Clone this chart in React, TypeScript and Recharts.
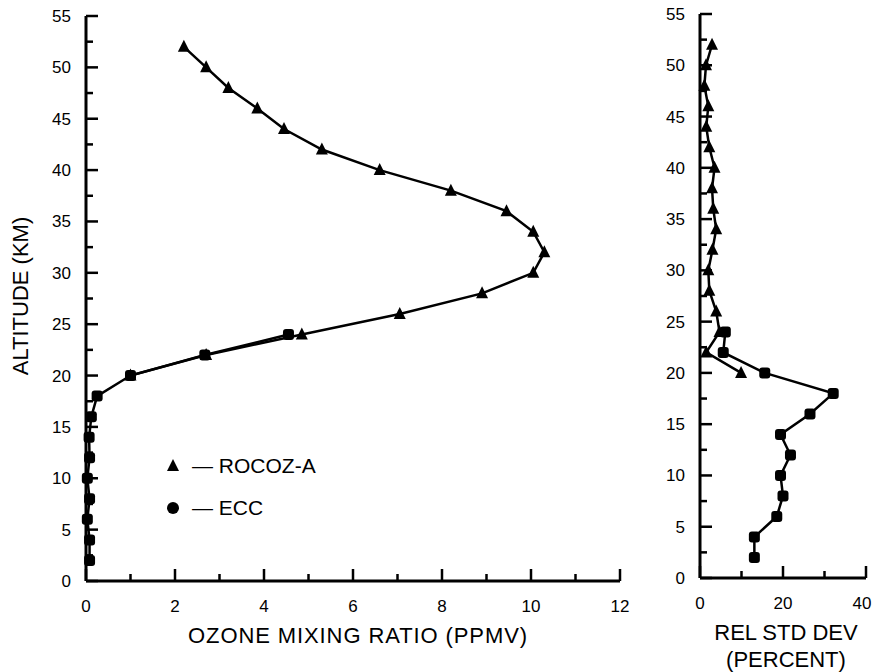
import React from 'react'
import { ScatterChart, Scatter, XAxis, YAxis, Legend } from 'recharts'

// altitudes (km) and values
const ROCOZ_ALT = [52, 50, 48, 46, 44, 42, 40, 38, 36, 34, 32, 30, 28, 26, 24, 22, 20]
const ROCOZ_MIX = [2.2, 2.7, 3.2, 3.85, 4.45, 5.3, 6.6, 8.2, 9.45, 10.05, 10.3, 10.05, 8.9, 7.05, 4.85, 2.7, 1.0]
const ROCOZ_SD = [2.9, 1.45, 1.05, 2.0, 1.5, 2.25, 3.5, 2.9, 3.2, 3.9, 3.0, 2.0, 2.25, 3.9, 4.7, 1.5, 9.9]

const ECC_ALT = [2, 4, 6, 8, 10, 12, 14, 16, 18, 20, 22, 24]
const ECC_MIX = [0.08, 0.08, 0.03, 0.08, 0.03, 0.08, 0.07, 0.12, 0.25, 1.0, 2.67, 4.55]
const ECC_SD = [13.1, 13.1, 18.5, 20.0, 19.4, 21.8, 19.4, 26.5, 32.1, 15.6, 5.6, 6.1]

const SERIES_NAMES = ['ROCOZ-A', 'ECC']

const ALT_TICKS = [0, 2.5, 5, 7.5, 10, 12.5, 15, 17.5, 20, 22.5, 25, 27.5, 30, 32.5, 35, 37.5, 40, 42.5, 45, 47.5, 50, 52.5, 55]
const MIX_TICKS = [0, 1, 2, 3, 4, 5, 6, 7, 8, 9, 10, 11, 12]
const SD_TICKS = [0, 10, 20, 30, 40]

const FONT = '"Liberation Sans", Arial, Helvetica, sans-serif'

const toPts = (alt: number[], vals: number[]) => alt.map((a, i) => ({ x: vals[i], y: a }))

const rocozMix = toPts(ROCOZ_ALT, ROCOZ_MIX)
const eccMix = toPts(ECC_ALT, ECC_MIX)
const rocozSd = toPts(ROCOZ_ALT, ROCOZ_SD)
const eccSd = toPts(ECC_ALT, ECC_SD)

const Tri = (p: any) => {
  const { cx, cy } = p
  const s = 6
  return <path d={`M${cx},${cy - s - 1}L${cx + s},${cy + s - 1}L${cx - s},${cy + s - 1}Z`} fill="#000" />
}

const Sq = (p: any) => <rect x={p.cx - 5.5} y={p.cy - 5.5} width={11} height={11} rx={3} fill="#000" />

const YTick = (p: any) => {
  const { x, y, payload } = p
  const v = payload.value
  const major = v % 5 === 0
  return (
    <g>
      <path d={`M${x},${y}H${x + (major ? 12 : 7)}`} stroke="#000" strokeWidth={2.5} fill="none" />
      {major && (
        <text x={x - 15} y={y} dy={6} textAnchor="end" fontSize={17} fontFamily={FONT} fill="#000">
          {v}
        </text>
      )}
    </g>
  )
}

const makeXTick = (every: number, last: number) => (p: any) => {
  const { x, y, payload } = p
  const v = payload.value
  const major = v % every === 0
  // the last label sits right at the page edge in the original, pulled in a little
  const tx = v === last ? x - 4 : x
  return (
    <g>
      <path d={`M${x},${y}V${y - (major ? 12 : 7)}`} stroke="#000" strokeWidth={2.5} fill="none" />
      {major && (
        <text x={tx} y={y} dy={31} textAnchor="middle" fontSize={17} fontFamily={FONT} fill="#000">
          {v}
        </text>
      )}
    </g>
  )
}

const LegendBox = ({ payload }: any) => {
  const items = [...(payload || [])].sort((a: any, b: any) => SERIES_NAMES.indexOf(a.value) - SERIES_NAMES.indexOf(b.value))
  return (
    <div style={{ fontFamily: FONT, fontSize: 21, color: '#000', position: 'relative', width: 200, height: 80 }}>
      {items.map((e: any, i: number) => (
        <div key={e.value} style={{ position: 'absolute', left: 0, top: i * 42, height: 30, display: 'flex', alignItems: 'center' }}>
          <svg width={26} height={26} style={{ marginRight: 6 }}>
            {e.value === 'ECC' ? <circle cx={13} cy={13} r={6} fill="#000" /> : <path d="M13,6L19,18L7,18Z" fill="#000" />}
          </svg>
          <span>— {e.value}</span>
        </div>
      ))}
    </div>
  )
}

const axisLine = { stroke: '#000', strokeWidth: 3 }
const lineStyle = { stroke: '#000', strokeWidth: 2.5 }

export default function App() {
  return (
    <div style={{ position: 'absolute', left: 0, top: 0, width: 873, height: 672, background: '#fff', fontFamily: FONT }}>
      <div style={{ position: 'absolute', left: 0, top: 0 }}>
        <ScatterChart width={640} height={672} margin={{ top: 16, right: 20, left: 0, bottom: 0 }}>
          <XAxis
            type="number"
            dataKey="x"
            domain={[0, 12]}
            ticks={MIX_TICKS}
            interval={0}
            height={91}
            tickSize={0}
            tickMargin={0}
            tickLine={false}
            axisLine={axisLine}
            tick={makeXTick(2, 99)}
          />
          <YAxis
            type="number"
            dataKey="y"
            domain={[0, 55]}
            ticks={ALT_TICKS}
            interval={0}
            width={86}
            tickSize={0}
            tickMargin={0}
            tickLine={false}
            axisLine={axisLine}
            tick={<YTick />}
          />
          <Legend
            layout="horizontal"
            verticalAlign="middle"
            align="center"
            content={<LegendBox />}
            wrapperStyle={{ position: 'absolute', left: 160, top: 451, width: 200, height: 80 }}
          />
          <Scatter name="ROCOZ-A" data={rocozMix} shape={<Tri />} line={lineStyle} fill="#000" isAnimationActive={false} />
          <Scatter name="ECC" data={eccMix} shape={<Sq />} line={lineStyle} fill="#000" isAnimationActive={false} />
        </ScatterChart>
      </div>
      <div style={{ position: 'absolute', left: 640, top: 0 }}>
        <ScatterChart width={233} height={672} margin={{ top: 14, right: 7, left: 0, bottom: 0 }}>
          <XAxis
            type="number"
            dataKey="x"
            domain={[0, 40]}
            ticks={SD_TICKS}
            interval={0}
            height={94}
            tickSize={0}
            tickMargin={0}
            tickLine={false}
            axisLine={axisLine}
            tick={makeXTick(20, 40)}
          />
          <YAxis
            type="number"
            dataKey="y"
            domain={[0, 55]}
            ticks={ALT_TICKS}
            interval={0}
            width={60}
            tickSize={0}
            tickMargin={0}
            tickLine={false}
            axisLine={axisLine}
            tick={<YTick />}
          />
          <Scatter name="ROCOZ-A" data={rocozSd} shape={<Tri />} line={lineStyle} fill="#000" isAnimationActive={false} />
          <Scatter name="ECC" data={eccSd} shape={<Sq />} line={lineStyle} fill="#000" isAnimationActive={false} />
        </ScatterChart>
      </div>
      <div
        style={{
          position: 'absolute',
          left: 21,
          top: 296,
          transform: 'translate(-50%, -50%) rotate(-90deg)',
          whiteSpace: 'nowrap',
          fontSize: 22,
          lineHeight: '24px',
        }}
      >
        ALTITUDE (KM)
      </div>
      <div
        style={{
          position: 'absolute',
          left: 358,
          top: 636,
          transform: 'translate(-50%, -50%)',
          whiteSpace: 'nowrap',
          fontSize: 22,
          letterSpacing: 0.9,
          lineHeight: '24px',
        }}
      >
        OZONE MIXING RATIO (PPMV)
      </div>
      <div
        style={{
          position: 'absolute',
          left: 786,
          top: 646,
          transform: 'translate(-50%, -50%)',
          whiteSpace: 'nowrap',
          fontSize: 22,
          lineHeight: '27px',
          textAlign: 'center',
        }}
      >
        REL STD DEV
        <br />
        (PERCENT)
      </div>
    </div>
  )
}
